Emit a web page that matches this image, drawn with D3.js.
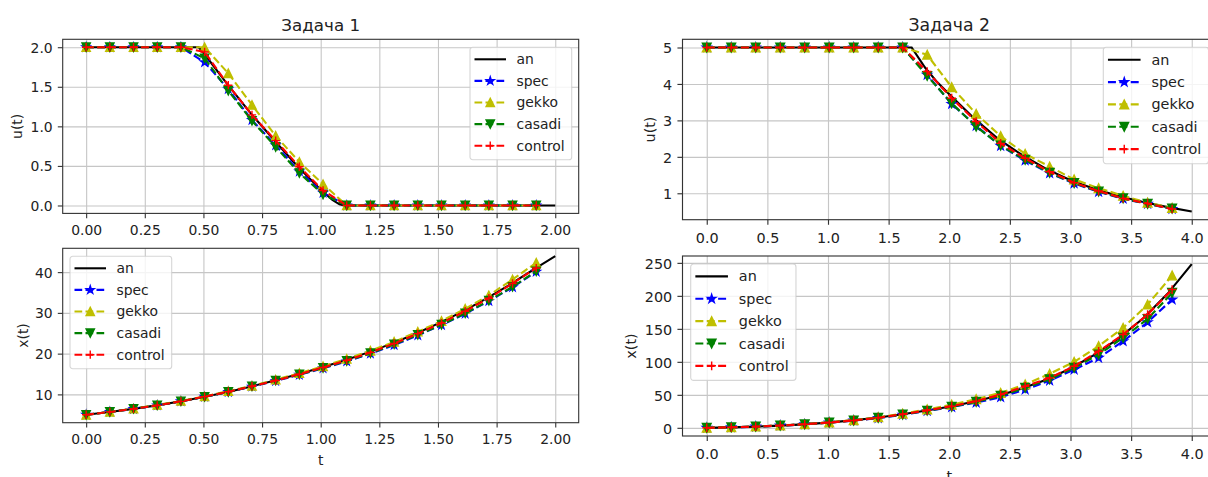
<!DOCTYPE html>
<html>
<head>
<meta charset="utf-8">
<script src="https://cdn.jsdelivr.net/npm/d3@7"></script>
<style>
  body { margin: 0; background: #fff; }
  svg { display: block; }
  text { font-family: "DejaVu Sans", sans-serif; fill: #222; }
</style>
</head>
<body>
<div id="chart"></div>
<script>
const W = 1208, H = 477;

// time grids of the numeric methods
const tGrid1 = [0, 0.101, 0.202, 0.303, 0.404, 0.505, 0.606, 0.707, 0.808, 0.909,
                1.010, 1.111, 1.212, 1.313, 1.414, 1.515, 1.616, 1.717, 1.818, 1.919];
const tGrid2 = [0, 0.202, 0.404, 0.606, 0.808, 1.010, 1.212, 1.414, 1.616, 1.818,
                2.020, 2.222, 2.424, 2.626, 2.828, 3.030, 3.232, 3.434, 3.636, 3.838];

// Задача 1 -- analytic solution
const anT1u = [0, 0.48, 0.5, 0.6, 0.7, 0.8, 0.9, 1.0, 1.05, 1.08, 1.1, 2.0];
const anU1  = [2, 2, 1.93, 1.54, 1.17, 0.83, 0.5, 0.2, 0.07, 0.015, 0, 0];
const anT1x = [0, 0.1, 0.2, 0.3, 0.4, 0.5, 0.6, 0.7, 0.8, 0.9, 1.0,
               1.1, 1.2, 1.3, 1.4, 1.5, 1.6, 1.7, 1.8, 1.9, 2.0];
const anX1  = [5.0, 5.7, 6.45, 7.3, 8.25, 9.35, 10.55, 11.9, 13.35, 14.9, 16.55,
               18.3, 20.25, 22.4, 24.75, 27.35, 30.2, 33.3, 36.7, 40.35, 43.9];

// Задача 1 -- numeric u(t)
const spec1U    = [2, 2, 2, 2, 2, 1.81, 1.47, 1.08, 0.76, 0.43, 0.16, 0, 0, 0, 0, 0, 0, 0, 0, 0];
const gekko1U   = [2, 2, 2, 2, 2, 2.0, 1.67, 1.27, 0.88, 0.55, 0.27, 0, 0, 0, 0, 0, 0, 0, 0, 0];
const casadi1U  = [2, 2, 2, 2, 2, 1.86, 1.45, 1.07, 0.74, 0.41, 0.14, 0, 0, 0, 0, 0, 0, 0, 0, 0];
const control1U = [2, 2, 2, 2, 2, 1.94, 1.52, 1.145, 0.82, 0.49, 0.19, 0, 0, 0, 0, 0, 0, 0, 0, 0];

// Задача 1 -- numeric x(t)
const spec1X    = [5.0, 5.7, 6.4, 7.3, 8.3, 9.4, 10.6, 11.9, 13.3, 14.8, 16.4, 18.1, 20.0, 22.1, 24.5, 27.0, 29.8, 32.9, 36.3, 40.1];
const gekko1X   = [5.0, 5.7, 6.5, 7.4, 8.4, 9.5, 10.8, 12.1, 13.6, 15.2, 16.9, 18.7, 20.7, 22.9, 25.4, 28.0, 31.0, 34.3, 38.2, 42.3];
const casadi1X  = [5.0, 5.7, 6.45, 7.3, 8.3, 9.4, 10.6, 12.0, 13.4, 14.9, 16.5, 18.2, 20.1, 22.3, 24.6, 27.1, 29.9, 33.0, 36.4, 40.2];
const control1X = [5.0, 5.7, 6.45, 7.3, 8.3, 9.45, 10.65, 12.0, 13.4, 14.95, 16.6, 18.35, 20.3, 22.5, 24.9, 27.5, 30.4, 33.6, 37.2, 41.0];

// Задача 2 -- analytic solution
const anT2u = [0, 0.4, 0.8, 1.2, 1.6, 1.69, 1.8, 1.9, 2.0, 2.2, 2.4, 2.6, 2.8, 3.0, 3.2, 3.4, 3.6, 3.8, 4.0];
const anU2  = [5, 5, 5, 5, 5, 5, 4.45, 4.05, 3.72, 3.07, 2.5, 2.05, 1.67, 1.36, 1.12, 0.92, 0.76, 0.62, 0.5];
const anT2x = [0, 0.2, 0.4, 0.6, 0.8, 1.0, 1.2, 1.4, 1.6, 1.8, 2.0,
               2.2, 2.4, 2.6, 2.8, 3.0, 3.2, 3.4, 3.6, 3.8, 4.0];
const anX2  = [0, 0.7, 1.8, 3.3, 5.3, 7.9, 11.2, 15.3, 20.2, 25.8, 32.0,
               39.5, 48.5, 59.5, 73.0, 90.0, 111.0, 136.0, 166.0, 203.0, 248.0];

// Задача 2 -- numeric u(t)
const spec2U    = [5, 5, 5, 5, 5, 5, 5, 5, 5, 4.25, 3.45, 2.85, 2.30, 1.90, 1.55, 1.27, 1.04, 0.85, 0.71, 0.57];
const gekko2U   = [5, 5, 5, 5, 5, 5, 5, 5, 5, 4.80, 3.91, 3.18, 2.57, 2.08, 1.73, 1.38, 1.14, 0.93, 0.74, 0.60];
const casadi2U  = [5, 5, 5, 5, 5, 5, 5, 5, 5, 4.22, 3.47, 2.83, 2.31, 1.92, 1.56, 1.28, 1.05, 0.86, 0.71, 0.58];
const control2U = [5, 5, 5, 5, 5, 5, 5, 5, 5, 4.34, 3.61, 2.97, 2.37, 1.96, 1.59, 1.29, 1.06, 0.86, 0.72, 0.57];

// Задача 2 -- numeric x(t)
const spec2X    = [0, 0.7, 1.8, 3.3, 5.3, 7.8, 10.9, 14.8, 19.7, 25.5, 31.5, 38.3, 46.4, 58.0, 71.7, 88.3, 106.0, 131.2, 160.0, 194.4];
const gekko2X   = [0, 0.75, 1.9, 3.5, 5.6, 8.3, 11.7, 16.0, 21.4, 27.9, 35.0, 43.5, 53.0, 65.6, 81.8, 100.0, 123.7, 151.5, 186.8, 230.8];
const casadi2X  = [0, 0.75, 1.85, 3.4, 5.4, 8.0, 11.1, 15.1, 20.2, 26.0, 32.0, 39.4, 48.5, 60.5, 73.5, 90.9, 111.0, 136.4, 165.0, 204.5];
const control2X = [0, 0.75, 1.85, 3.4, 5.4, 8.0, 11.2, 15.3, 20.5, 26.5, 32.8, 40.5, 50.4, 63.0, 75.7, 93.3, 116.0, 141.4, 171.7, 209.5];

// ticks
const xTicks1 = [0, 0.25, 0.5, 0.75, 1.0, 1.25, 1.5, 1.75, 2.0];
const xTicks2 = [0, 0.5, 1.0, 1.5, 2.0, 2.5, 3.0, 3.5, 4.0];
const yTicksU1 = [0, 0.5, 1.0, 1.5, 2.0];
const yTicksX1 = [10, 20, 30, 40];
const yTicksU2 = [1, 2, 3, 4, 5];
const yTicksX2 = [0, 50, 100, 150, 200, 250];

const names = ["an", "spec", "gekko", "casadi", "control"];
const colors = { an: "#000000", spec: "#0000ff", gekko: "#bfbf00", casadi: "#008000", control: "#ff0000" };
const markerKind = { an: null, spec: "star", gekko: "up", casadi: "down", control: "plus" };

function zipS(t, v) { return t.map((d, i) => [d, v[i]]); }

function makeSeries(anT, anV, tg, sp, ge, ca, co) {
  return [
    { name: "an", pts: zipS(anT, anV) },
    { name: "spec", pts: zipS(tg, sp) },
    { name: "gekko", pts: zipS(tg, ge) },
    { name: "casadi", pts: zipS(tg, ca) },
    { name: "control", pts: zipS(tg, co) }
  ];
}

function markerPath(kind, r) {
  if (kind === "up") return `M0,${-r}L${-r},${r}L${r},${r}Z`;
  if (kind === "down") return `M0,${r}L${-r},${-r}L${r},${-r}Z`;
  if (kind === "plus") return `M${-r},0H${r}M0,${-r}V${r}`;
  if (kind === "star") {
    const p = [];
    for (let i = 0; i < 10; i++) {
      const a = -Math.PI / 2 + i * Math.PI / 5;
      const rr = i % 2 ? r * 0.382 : r;
      p.push((rr * Math.cos(a)).toFixed(2) + "," + (rr * Math.sin(a)).toFixed(2));
    }
    return "M" + p.join("L") + "Z";
  }
  return "";
}

function padded(ext) {
  const d = (ext[1] - ext[0]) * 0.05;
  return [ext[0] - d, ext[1] + d];
}

const panels = [
  { id: 1, s: 1, l: 62.7, r: 578.7, t: 39.3, b: 213.4, xExt: [0, 2],
    xTicks: xTicks1, xFmt: ".2f", yTicks: yTicksU1, yFmt: ".1f",
    ylab: "u(t)", ylabX: 17, title: "Задача 1", titleY: 30.5,
    legX: 470, legY: 47.3, xPad: 6.9, yPad: 5.1,
    series: makeSeries(anT1u, anU1, tGrid1, spec1U, gekko1U, casadi1U, control1U) },
  { id: 3, s: 1, l: 62.7, r: 578.7, t: 248.3, b: 422.7, xExt: [0, 2],
    xTicks: xTicks1, xFmt: ".2f", yTicks: yTicksX1, yFmt: "d",
    ylab: "x(t)", ylabX: 22.7, xlab: "t", xlabY: 460,
    legX: 70, legY: 256.3, xPad: 6.9, yPad: 5.1,
    series: makeSeries(anT1x, anX1, tGrid1, spec1X, gekko1X, casadi1X, control1X) },
  { id: 2, s: 1.035, l: 682.5, r: 1216, t: 39.3, b: 219.7, xExt: [0, 4],
    xTicks: xTicks2, xFmt: ".1f", yTicks: yTicksU2, yFmt: "d",
    ylab: "u(t)", ylabX: 650, title: "Задача 2", titleY: 30.5,
    legX: 1103.3, legY: 47.3, xPad: 8.2, yPad: 5.2,
    series: makeSeries(anT2u, anU2, tGrid2, spec2U, gekko2U, casadi2U, control2U) },
  { id: 4, s: 1.035, l: 682.5, r: 1216, t: 256, b: 436, xExt: [0, 4],
    xTicks: xTicks2, xFmt: ".1f", yTicks: yTicksX2, yFmt: "d",
    ylab: "x(t)", ylabX: 630.7, xlab: "t", xlabY: 475.5,
    legX: 690.7, legY: 264, xPad: 8.2, yPad: 5.2,
    series: makeSeries(anT2x, anX2, tGrid2, spec2X, gekko2X, casadi2X, control2X) }
];

const svg = d3.select("#chart").append("svg").attr("width", W).attr("height", H);
const defs = svg.append("defs");

panels.forEach(p => {
  const s = p.s;
  const fs = 13.9 * s;
  const lw = 2.08 * s;
  const g = svg.append("g");

  const x = d3.scaleLinear().domain(padded(p.xExt)).range([p.l, p.r]);
  const allY = p.series.flatMap(d => d.pts.map(q => q[1]));
  const y = d3.scaleLinear().domain(padded(d3.extent(allY))).range([p.b, p.t]);

  defs.append("clipPath").attr("id", "clip" + p.id)
    .append("rect").attr("x", p.l).attr("y", p.t).attr("width", p.r - p.l).attr("height", p.b - p.t);

  // grid
  const gx = g.append("g").attr("transform", `translate(0,${p.b})`)
    .call(d3.axisBottom(x).tickValues(p.xTicks).tickSize(-(p.b - p.t)).tickFormat(""));
  const gy = g.append("g").attr("transform", `translate(${p.l},0)`)
    .call(d3.axisLeft(y).tickValues(p.yTicks).tickSize(-(p.r - p.l)).tickFormat(""));
  [gx, gy].forEach(a => {
    a.select(".domain").remove();
    a.selectAll("line").attr("stroke", "#c6c6c6").attr("stroke-width", 1.1 * s);
  });

  // axes with ticks
  const ax = g.append("g").attr("transform", `translate(0,${p.b})`)
    .call(d3.axisBottom(x).tickValues(p.xTicks).tickFormat(d3.format(p.xFmt))
      .tickSizeInner(4.9 * s).tickSizeOuter(0).tickPadding(p.xPad));
  const ay = g.append("g").attr("transform", `translate(${p.l},0)`)
    .call(d3.axisLeft(y).tickValues(p.yTicks).tickFormat(d3.format(p.yFmt))
      .tickSizeInner(4.9 * s).tickSizeOuter(0).tickPadding(p.yPad));
  [ax, ay].forEach(a => {
    a.select(".domain").remove();
    a.selectAll("line").attr("stroke", "#333").attr("stroke-width", 1.1 * s);
    a.selectAll("text").attr("font-size", fs).attr("font-family", "DejaVu Sans").attr("fill", "#222");
  });
  ay.selectAll("text").attr("dy", "0.36em");

  // series
  const plot = g.append("g").attr("clip-path", `url(#clip${p.id})`);
  const line = d3.line().x(d => x(d[0])).y(d => y(d[1]));
  p.series.forEach(sr => {
    const c = colors[sr.name];
    plot.append("path").datum(sr.pts)
      .attr("d", line).attr("fill", "none").attr("stroke", c)
      .attr("stroke-width", lw)
      .attr("stroke-dasharray", sr.name === "an" ? null : `${7.7 * s},${3.3 * s}`);
    const mk = markerKind[sr.name];
    if (mk) {
      plot.append("g").selectAll("path").data(sr.pts).join("path")
        .attr("transform", d => `translate(${x(d[0])},${y(d[1])})`)
        .attr("d", markerPath(mk, 4.17 * s))
        .attr("fill", mk === "plus" ? "none" : c)
        .attr("stroke", c).attr("stroke-width", 1.39 * s)
        .attr("stroke-linejoin", "miter");
    }
  });

  // spines
  g.append("rect").attr("x", p.l).attr("y", p.t)
    .attr("width", p.r - p.l).attr("height", p.b - p.t)
    .attr("fill", "none").attr("stroke", "#333").attr("stroke-width", 1.1 * s);

  // labels
  g.append("text")
    .attr("transform", `translate(${p.ylabX},${(p.t + p.b) / 2}) rotate(-90)`)
    .attr("text-anchor", "middle").attr("dy", "0.35em")
    .attr("font-size", fs).text(p.ylab);
  if (p.xlab) {
    g.append("text").attr("x", (p.l + p.r) / 2).attr("y", p.xlabY)
      .attr("text-anchor", "middle").attr("dy", "0.35em")
      .attr("font-size", fs).text(p.xlab);
  }
  if (p.title) {
    g.append("text").attr("x", (p.l + p.r) / 2).attr("y", p.titleY)
      .attr("text-anchor", "middle").attr("font-size", 16.7 * s).text(p.title);
  }

  // legend
  const lg = g.append("g").attr("transform", `translate(${p.legX},${p.legY})`);
  lg.append("rect").attr("width", 101.7 * s).attr("height", 112.5 * s)
    .attr("rx", 2.8 * s).attr("fill", "#fff").attr("fill-opacity", 0.8)
    .attr("stroke", "#cccccc").attr("stroke-opacity", 0.8).attr("stroke-width", 1.1 * s);
  names.forEach((n, i) => {
    const ry = (12 + i * 21.6) * s;
    const x0 = 4.5 * s, x1 = 36 * s;
    lg.append("line").attr("x1", x0).attr("x2", x1).attr("y1", ry).attr("y2", ry)
      .attr("stroke", colors[n]).attr("stroke-width", lw)
      .attr("stroke-dasharray", n === "an" ? null : `${7.7 * s},${3.3 * s}`);
    const mk = markerKind[n];
    if (mk) {
      lg.append("path").attr("transform", `translate(${(x0 + x1) / 2},${ry})`)
        .attr("d", markerPath(mk, 4.17 * s))
        .attr("fill", mk === "plus" ? "none" : colors[n])
        .attr("stroke", colors[n]).attr("stroke-width", 1.39 * s);
    }
    lg.append("text").attr("x", 46.5 * s).attr("y", ry).attr("dy", "0.35em")
      .attr("font-size", fs).text(n);
  });
});
</script>
</body>
</html>
